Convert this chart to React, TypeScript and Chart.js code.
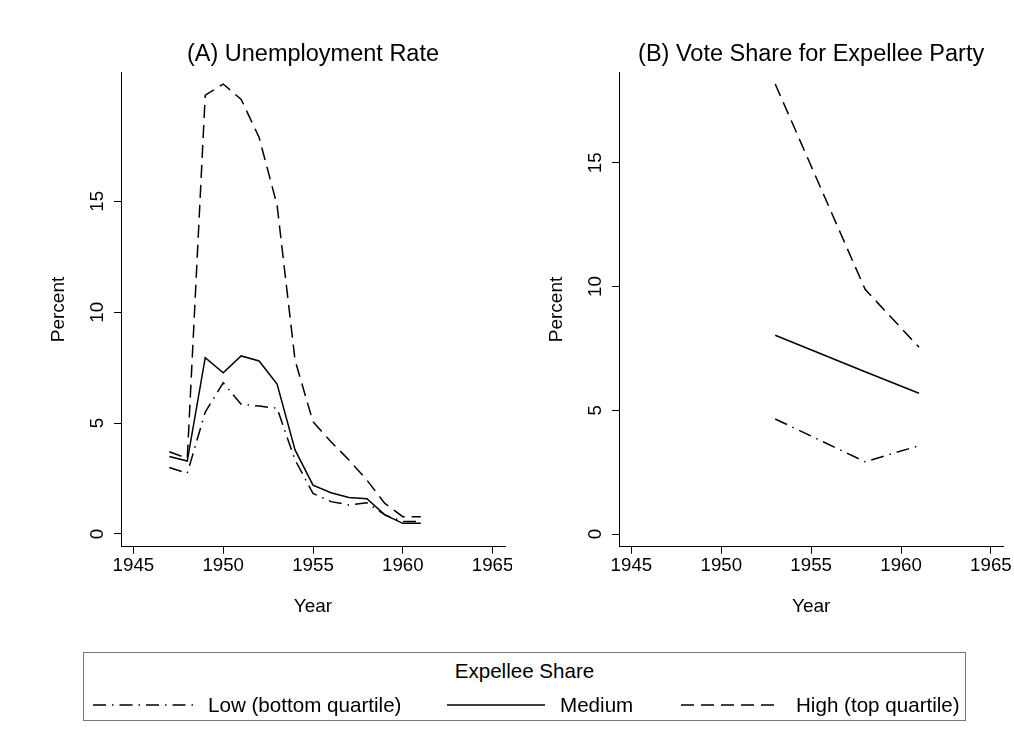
import React, { useEffect, useRef } from "react";
import { Chart, registerables } from "chart.js";

Chart.register(...registerables);

// ---------- data ----------
const years = [1947, 1948, 1949, 1950, 1951, 1952, 1953, 1954, 1955, 1956, 1957, 1958, 1959, 1960, 1961];
const unempLow = [3.0, 2.74, 5.5, 6.82, 5.85, 5.77, 5.67, 3.34, 1.83, 1.46, 1.31, 1.41, 0.86, 0.56, 0.56];
const unempMedium = [3.49, 3.29, 7.95, 7.27, 8.03, 7.8, 6.76, 3.79, 2.2, 1.86, 1.65, 1.59, 0.86, 0.48, 0.48];
const unempHigh = [3.71, 3.41, 19.79, 20.29, 19.6, 17.88, 14.83, 7.84, 5.06, 4.16, 3.34, 2.43, 1.38, 0.78, 0.78];

const voteYears = [1953, 1958, 1961];
const voteLow = [4.65, 2.92, 3.57];
const voteMedium = [8.03, 6.56, 5.69];
const voteHigh = [18.19, 9.89, 7.55];

const xTicks = [1945, 1950, 1955, 1960, 1965];
const yTicks = [0, 5, 10, 15];

const seriesLabels = ["Low (bottom quartile)", "Medium", "High (top quartile)"];
const legendTitle = "Expellee Share";
const titleA = "(A) Unemployment Rate";
const titleB = "(B) Vote Share for Expellee Party";
const xTitle = "Year";
const yTitle = "Percent";

// ---------- styles ----------
const FONT = "'Liberation Sans', Arial, Helvetica, sans-serif";
const INK = "#000";
const DASH_LOW = [13, 6, 1.5, 6];
const DASH_HIGH = [13, 7];

function pts(xs: number[], ys: number[]) {
  return xs.map((x, i) => ({ x, y: ys[i] }));
}

function makeConfig(
  title: string,
  xs: number[],
  low: number[],
  med: number[],
  high: number[],
  yMin: number,
  yMax: number,
  padRight: number
): any {
  const ds = (label: string, data: number[], dash: number[]) => ({
    label,
    data: pts(xs, data),
    borderColor: INK,
    backgroundColor: INK,
    borderWidth: 1.5,
    borderDash: dash,
    pointRadius: 0,
    fill: false,
    tension: 0,
  });
  return {
    type: "line",
    data: {
      datasets: [
        ds(seriesLabels[0], low, DASH_LOW),
        ds(seriesLabels[1], med, []),
        ds(seriesLabels[2], high, DASH_HIGH),
      ],
    },
    options: {
      animation: false,
      responsive: false,
      maintainAspectRatio: false,
      layout: { padding: { left: 0, right: padRight, top: 0, bottom: 0 } },
      plugins: {
        legend: { display: false },
        tooltip: { enabled: false },
        title: {
          display: true,
          text: title,
          fullSize: false,
          color: INK,
          font: { family: FONT, size: 23.5, weight: "normal" },
          padding: { top: 40, bottom: 4.1 },
        },
      },
      scales: {
        x: {
          type: "linear",
          min: 1944.31,
          max: 1965.69,
          afterBuildTicks: (s: any) => {
            s.ticks = xTicks.map((v) => ({ value: v }));
          },
          afterFit: (s: any) => {
            s.height = 83.3;
            s.paddingLeft = 0;
            s.paddingRight = 0;
          },
          ticks: {
            color: INK,
            font: { family: FONT, size: 18.7 },
            padding: 1,
            minRotation: 0,
            maxRotation: 0,
            autoSkip: false,
            callback: (v: any) => String(v),
          },
          grid: {
            display: true,
            drawOnChartArea: false,
            drawTicks: true,
            tickLength: 7,
            color: INK,
            lineWidth: 1,
          },
          border: { display: true, color: INK, width: 1 },
          title: {
            display: true,
            text: xTitle,
            color: INK,
            font: { family: FONT, size: 19 },
            padding: { top: 0, bottom: 11.8 },
          },
        },
        y: {
          type: "linear",
          min: yMin,
          max: yMax,
          afterBuildTicks: (s: any) => {
            s.ticks = yTicks.map((v) => ({ value: v }));
          },
          afterFit: (s: any) => {
            s.width = 121;
            s.paddingTop = 0;
            s.paddingBottom = 0;
          },
          ticks: {
            color: INK,
            font: { family: FONT, size: 18.7 },
            padding: 5.4,
            minRotation: 90,
            maxRotation: 90,
            crossAlign: "center",
            autoSkip: false,
            callback: (v: any) => String(v),
          },
          grid: {
            display: true,
            drawOnChartArea: false,
            drawTicks: true,
            tickLength: 7,
            color: INK,
            lineWidth: 1,
          },
          border: { display: true, color: INK, width: 1 },
          title: {
            display: true,
            text: yTitle,
            color: INK,
            font: { family: FONT, size: 19 },
            padding: { top: 47.7, bottom: 0 },
          },
        },
      },
    },
  };
}

export default function App() {
  const leftRef = useRef<HTMLCanvasElement | null>(null);
  const rightRef = useRef<HTMLCanvasElement | null>(null);

  useEffect(() => {
    const charts: Chart[] = [];
    if (leftRef.current) {
      charts.push(
        new Chart(
          leftRef.current,
          makeConfig(titleA, years, unempLow, unempMedium, unempHigh, -0.573, 20.82, 7)
        )
      );
    }
    if (rightRef.current) {
      charts.push(
        new Chart(
          rightRef.current,
          makeConfig(titleB, voteYears, voteLow, voteMedium, voteHigh, -0.513, 18.66, 10.7)
        )
      );
    }
    return () => charts.forEach((c) => c.destroy());
  }, []);

  const textStyle: React.CSSProperties = {
    position: "absolute",
    fontFamily: FONT,
    fontSize: "20.6px",
    lineHeight: "24px",
    color: INK,
    whiteSpace: "nowrap",
  };

  const legendItems = [
    { x1: 93, x2: 195, tx: 208, dash: DASH_LOW, label: seriesLabels[0] },
    { x1: 447, x2: 545, tx: 560, dash: [] as number[], label: seriesLabels[1] },
    { x1: 681, x2: 781, tx: 796, dash: DASH_HIGH, label: seriesLabels[2] },
  ];

  return (
    <div
      style={{
        position: "absolute",
        left: 0,
        top: 0,
        width: 1014,
        height: 749,
        background: "#fff",
        overflow: "hidden",
      }}
    >
      <canvas
        ref={leftRef}
        width={512}
        height={630}
        style={{ position: "absolute", left: 0, top: 0, width: 512, height: 630 }}
      />
      <canvas
        ref={rightRef}
        width={516}
        height={630}
        style={{ position: "absolute", left: 498, top: 0, width: 516, height: 630 }}
      />
      <div
        style={{
          position: "absolute",
          left: 83,
          top: 652,
          width: 883,
          height: 69,
          border: "1.5px solid #777",
          boxSizing: "border-box",
        }}
      />
      <div style={{ ...textStyle, left: 83, width: 883, top: 659.3, textAlign: "center" }}>
        {legendTitle}
      </div>
      <svg
        width={1014}
        height={749}
        style={{ position: "absolute", left: 0, top: 0, pointerEvents: "none" }}
      >
        {legendItems.map((it, i) => (
          <line
            key={i}
            x1={it.x1}
            x2={it.x2}
            y1={705}
            y2={705}
            stroke={INK}
            strokeWidth={1.5}
            strokeDasharray={it.dash.length ? it.dash.join(" ") : undefined}
          />
        ))}
      </svg>
      {legendItems.map((it, i) => (
        <div key={i} style={{ ...textStyle, left: it.tx, top: 692.7 }}>
          {it.label}
        </div>
      ))}
    </div>
  );
}
